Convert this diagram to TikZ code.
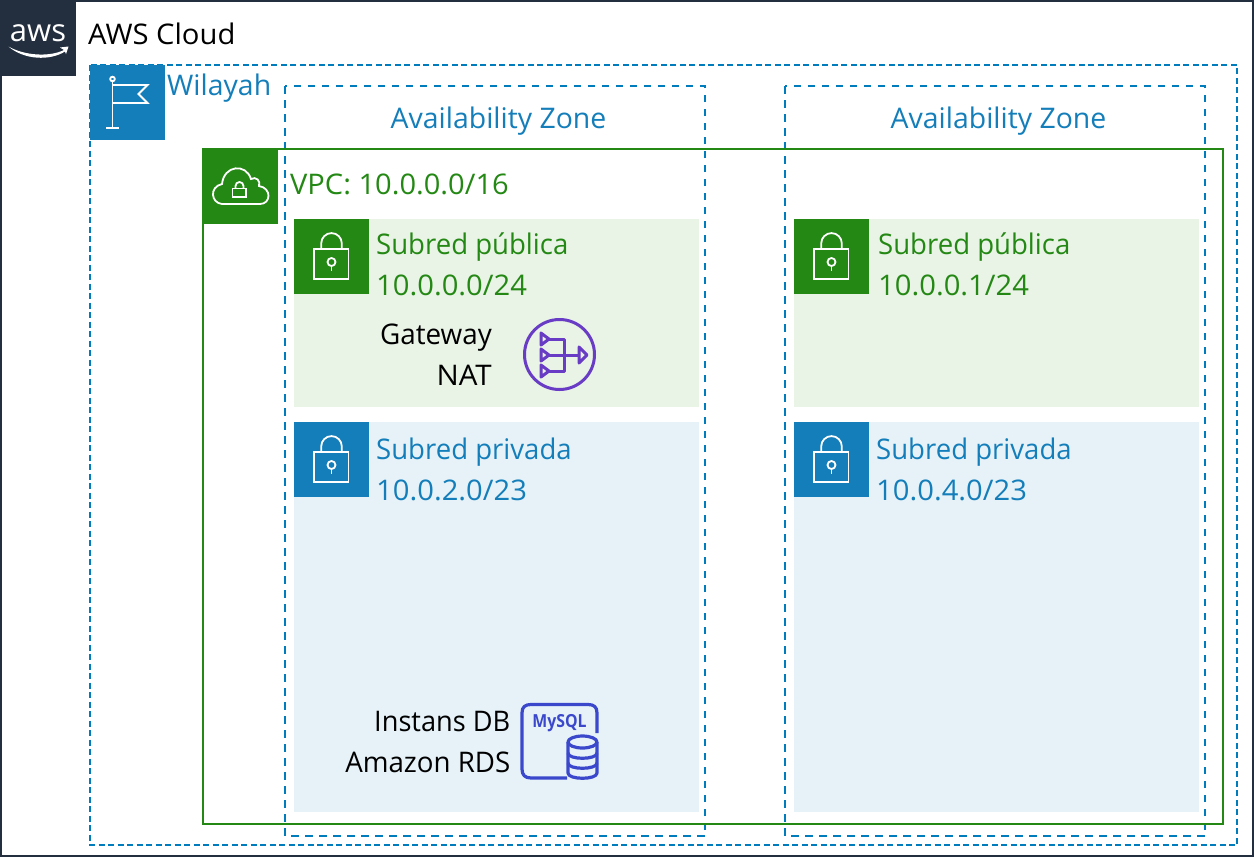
\documentclass[tikz,border=0pt]{standalone}
\usepackage{fontspec}
\setmainfont{Open Sans}
\definecolor{awsdark}{HTML}{232F3E}
\definecolor{awsblue}{HTML}{147EBA}
\definecolor{dashblue}{HTML}{007CBD}
\definecolor{awsgreen}{HTML}{248814}
\definecolor{pubfill}{HTML}{E9F3E6}
\definecolor{privfill}{HTML}{E6F2F8}
\definecolor{natpurple}{HTML}{693CC5}
\definecolor{rdsblue}{HTML}{3B48CC}
\tikzset{
  lbl/.style={font=\fontsize{28.4}{32}\selectfont,anchor=base west,inner sep=0pt},
  lblr/.style={font=\fontsize{28.4}{32}\selectfont,anchor=base east,inner sep=0pt,text=black},
  lblc/.style={font=\fontsize{28.4}{32}\selectfont,anchor=base,inner sep=0pt,text=awsblue},
  iconline/.style={draw=white,line width=1.8pt},
  natline/.style={draw=natpurple,line width=3pt,line join=round},
  rdsline/.style={draw=rdsblue,line width=3.2pt,line join=round},
  pics/lock/.style={code={
    \fill[#1] (0,0) rectangle (75,75);
    \draw[iconline] (20,30) rectangle (54.5,60);
    \draw[iconline] (27.2,30) -- (27.2,24.4) arc[start angle=180,end angle=360,radius=10.3] -- (47.8,30);
    \draw[iconline] (37.5,43) circle (4);
    \draw[iconline] (37.5,47) -- (37.5,52);
  }}
}
\begin{document}
\begin{tikzpicture}[x=1pt,y=-1pt]
\useasboundingbox (0,0) rectangle (1254,857);
\fill[white] (0,0) rectangle (1254,857);
% Region and AZ frames
\draw[dashblue,line width=2.2pt,dash pattern=on 6pt off 3.5pt] (90,65) rectangle (1237,845);
\draw[dashblue,line width=2.2pt,dash pattern=on 7.5pt off 6.5pt] (285,86) rectangle (705,836);
\draw[dashblue,line width=2.2pt,dash pattern=on 7.5pt off 6.5pt] (785,86) rectangle (1205,836);
% Subnets
\fill[pubfill] (294,219) rectangle (699,407);
\fill[pubfill] (794,219) rectangle (1199,407);
\fill[privfill] (294,422) rectangle (699,812);
\fill[privfill] (794,422) rectangle (1199,812);
% VPC
\draw[awsgreen,line width=2.2pt] (203,149) rectangle (1223,824);
% AWS Cloud frame
\draw[awsdark,line width=2pt] (1,1) rectangle (1253,856);
\fill[awsdark] (0,0) rectangle (76,76);
\node[inner sep=0pt,text=white,font=\fontsize{31}{31}\selectfont,anchor=base] (awslogo) at (38,41) {aws};
\fill[white] (8.5,46.5) .. controls (25,56) and (50,57) .. (64,50) -- (60,47.5) -- (68.5,46.5) -- (66,54) -- (65,51.5) .. controls (50,61) and (24,60) .. (8.5,46.5) -- cycle;
% Region icon
\fill[awsblue] (90,65) rectangle (165,140);
\draw[iconline] (112.5,81) -- (112.5,128);
\draw[iconline] (106,128) -- (119,128);
\draw[iconline] (112.5,79) circle (2.3);
\draw[iconline] (112.5,85) -- (147.5,85) -- (138.5,94) -- (147.5,103) -- (112.5,103);
% VPC icon
\fill[awsgreen] (203,149) rectangle (278,224);
\draw[iconline] (222,204) .. controls (211,203) and (209,187) .. (222,184)
  .. controls (224,165) and (246,163) .. (251,179)
  .. controls (256,176) and (261,181) .. (259,186)
  .. controls (272,188) and (271,204) .. (260,204) -- cycle;
\draw[iconline] (232.5,188.5) rectangle (246,197);
\draw[iconline] (235.5,188.5) -- (235.5,186) arc[start angle=180,end angle=360,radius=4] -- (243.5,188.5);
% Lock icons
\path (294,219) pic {lock=awsgreen};
\path (794,219) pic {lock=awsgreen};
\path (294,422) pic {lock=awsblue};
\path (794,422) pic {lock=awsblue};
% Labels
\node[lbl,xscale=1.028] (cloud) at (88,44) {AWS Cloud};
\node[lbl,text=awsblue] (region) at (167,95) {Wilayah};
\node[lblc] (az1) at (498.5,128) {Availability Zone};
\node[lblc] (az2) at (998.5,128) {Availability Zone};
\node[lbl,text=awsgreen,xscale=1.023] (vpc) at (290,194) {VPC: 10.0.0.0/16};
\node[lbl,text=awsgreen,xscale=0.97] (pub1a) at (376,254) {Subred pública};
\node[lbl,text=awsgreen,xscale=1.027] (pub1b) at (376,295) {10.0.0.0/24};
\node[lbl,text=awsgreen,xscale=0.97] (pub2a) at (878,254) {Subred pública};
\node[lbl,text=awsgreen,xscale=1.027] (pub2b) at (878,295) {10.0.0.1/24};
\node[lbl,text=awsblue,xscale=0.97] (priv1a) at (376,459) {Subred privada};
\node[lbl,text=awsblue,xscale=1.027] (priv1b) at (376,500) {10.0.2.0/23};
\node[lbl,text=awsblue,xscale=0.97] (priv2a) at (876,459) {Subred privada};
\node[lbl,text=awsblue,xscale=1.027] (priv2b) at (876,500) {10.0.4.0/23};
\node[lblr,xscale=0.98] (nat1) at (492,344) {Gateway};
\node[lblr,xscale=1.04] (nat2) at (492,385) {NAT};
\node[lblr,xscale=0.957] (rds1) at (510.5,731) {Instans DB};
\node[lblr,xscale=0.975] (rds2) at (510.5,772) {Amazon RDS};
% NAT icon
\draw[natline] (559.5,354.5) circle (35);
\foreach \yy in {339,355,371}{
  \draw[natline] (541,\yy-6) -- (549,\yy) -- (541,\yy+6) -- cycle;
}
\draw[natline] (549,339) -- (564,339) -- (564,371) -- (549,371);
\draw[natline] (549,355) -- (579,355);
\draw[natline] (579,347) -- (587,355) -- (579,363) -- cycle;
% RDS icon
\draw[rdsline] (567,778) -- (531,778) .. controls (525,778) and (522,775) .. (522,769) -- (522,713) .. controls (522,707) and (525,704.5) .. (531,704.5) -- (588,704.5) .. controls (594,704.5) and (597,707) .. (597,713) -- (597,733);
\node[inner sep=0pt,text=rdsblue,font=\fontsize{18}{18}\selectfont\bfseries,anchor=base,xscale=0.88] (mysql) at (559.5,727) {MySQL};
\draw[rdsline] (568,742) -- (568,773) .. controls (568,780) and (597,780) .. (597,773) -- (597,742);
\draw[rdsline] (582.5,742) ellipse (14.5 and 6);
\draw[rdsline] (568,753) .. controls (568,760) and (597,760) .. (597,753);
\draw[rdsline] (568,763) .. controls (568,770) and (597,770) .. (597,763);
\end{tikzpicture}
\end{document}
